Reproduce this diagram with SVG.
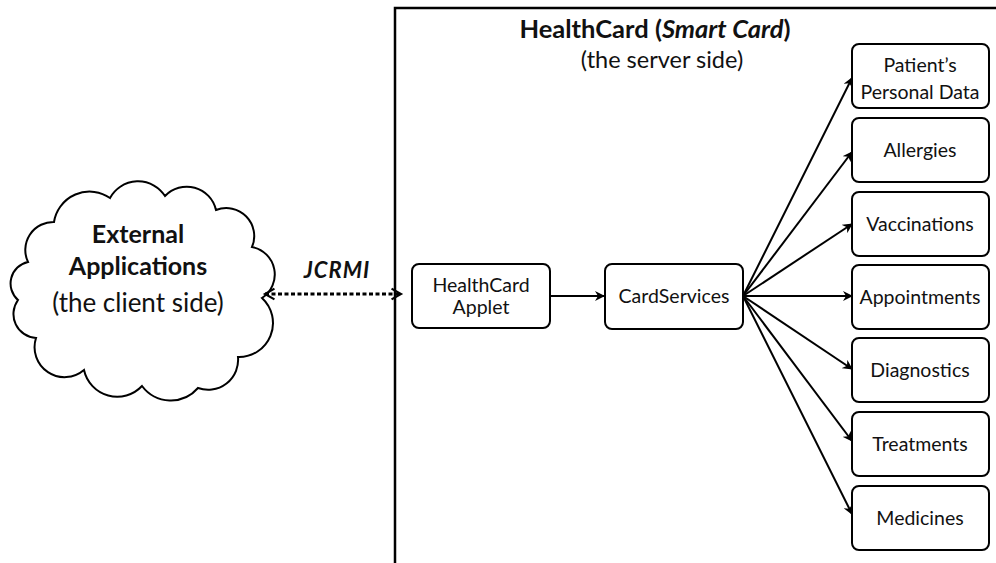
<svg xmlns="http://www.w3.org/2000/svg" width="996" height="563" viewBox="0 0 996 563">
<defs>
<style>
.box{fill:#fff;stroke:#000;stroke-width:2}
.t{font-family:Lato,"Liberation Sans",sans-serif;fill:#111;text-anchor:middle}
.bt{font-size:19.5px}
.conn{stroke:#000;stroke-width:2;fill:none}
</style>
<marker id="ah" viewBox="0 0 10 10" refX="9" refY="5" markerWidth="5" markerHeight="5" orient="auto" markerUnits="strokeWidth">
<path d="M0,0 L10,5 L0,10 L3,5 Z" fill="#000"/>
</marker>
<marker id="oh" viewBox="0 0 10 10" refX="8" refY="5" markerWidth="4.5" markerHeight="4.5" orient="auto-start-reverse" markerUnits="strokeWidth">
<path d="M1,1 L8,5 L1,9" fill="none" stroke="#000" stroke-width="1.6"/>
</marker>
</defs>
<rect width="996" height="563" fill="#fff"/>

<g id="server">
<rect x="395" y="8" width="640" height="600" fill="none" stroke="#000" stroke-width="2.5"/>
<text class="t" x="655" y="38" font-size="25.5" font-weight="bold">HealthCard (<tspan font-style="italic">Smart Card</tspan>)</text>
<text class="t" x="662" y="68" font-size="23.5">(the server side)</text>
</g>

<g id="client">
<path d="M28,262 A28,28 0 0 1 54,222 A36,36 0 0 1 110,198 A32,32 0 0 1 165,196 A30,30 0 0 1 216,210 A28,28 0 0 1 252,247 A28,28 0 0 1 262,298 A34,34 0 0 1 238,357 A30,30 0 0 1 198,388 A36,36 0 0 1 142,386 A34,34 0 0 1 84,370 A30,30 0 0 1 36,338 A24,24 0 0 1 18,300 A22,22 0 0 1 28,262 Z" fill="#fff" stroke="#000" stroke-width="2"/>
<text class="t" x="138" y="243" font-size="25" font-weight="bold">External</text>
<text class="t" x="138" y="275" font-size="25" font-weight="bold">Applications</text>
<text class="t" x="138" y="312" font-size="26">(the client side)</text>
</g>

<g id="applet">
<rect class="box" x="412" y="264" width="138" height="64" rx="7"/>
<text class="t bt" x="481" y="292">HealthCard</text>
<text class="t bt" x="481" y="314">Applet</text>
</g>
<g id="cardservices">
<rect class="box" x="605" y="264" width="138" height="65" rx="7"/>
<text class="t bt" x="674" y="303">CardServices</text>
</g>
<g id="personal">
<rect class="box" x="852" y="44" width="137" height="64" rx="7"/>
<text class="t bt" x="920" y="72">Patient’s</text>
<text class="t bt" x="920" y="99">Personal Data</text>
</g>
<g id="allergies">
<rect class="box" x="852" y="118" width="137" height="64" rx="7"/>
<text class="t bt" x="920" y="157">Allergies</text>
</g>
<g id="vaccinations">
<rect class="box" x="852" y="192" width="137" height="64" rx="7"/>
<text class="t bt" x="920" y="231">Vaccinations</text>
</g>
<g id="appointments">
<rect class="box" x="852" y="265" width="137" height="64" rx="7"/>
<text class="t bt" x="920" y="304">Appointments</text>
</g>
<g id="diagnostics">
<rect class="box" x="852" y="338" width="137" height="64" rx="7"/>
<text class="t bt" x="920" y="377">Diagnostics</text>
</g>
<g id="treatments">
<rect class="box" x="852" y="412" width="137" height="64" rx="7"/>
<text class="t bt" x="920" y="451">Treatments</text>
</g>
<g id="medicines">
<rect class="box" x="852" y="486" width="137" height="64" rx="7"/>
<text class="t bt" x="920" y="525">Medicines</text>
</g>

<g id="connectors">
<line x1="265" y1="294" x2="401" y2="294" stroke="#000" stroke-width="3" stroke-dasharray="4 2.5" marker-start="url(#oh)" marker-end="url(#oh)"/>
<text class="t" x="337" y="278" font-size="22" font-weight="bold" font-style="italic" letter-spacing="1">JCRMI</text>
<line class="conn" x1="550" y1="296" x2="604" y2="296" marker-end="url(#ah)"/>
<line class="conn" x1="743" y1="296" x2="852" y2="78" marker-end="url(#ah)"/>
<line class="conn" x1="743" y1="296" x2="852" y2="152" marker-end="url(#ah)"/>
<line class="conn" x1="743" y1="296" x2="852" y2="224" marker-end="url(#ah)"/>
<line class="conn" x1="743" y1="296" x2="852" y2="296" marker-end="url(#ah)"/>
<line class="conn" x1="743" y1="296" x2="852" y2="369" marker-end="url(#ah)"/>
<line class="conn" x1="743" y1="296" x2="852" y2="441" marker-end="url(#ah)"/>
<line class="conn" x1="743" y1="296" x2="852" y2="514" marker-end="url(#ah)"/>
</g>
</svg>
